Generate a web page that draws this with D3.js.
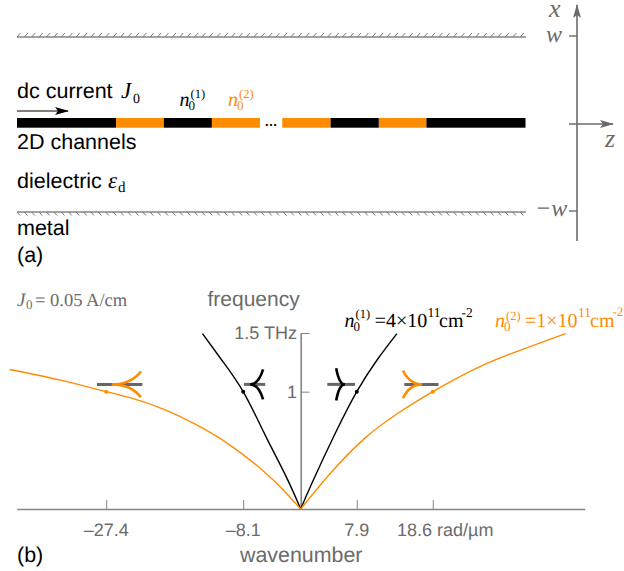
<!DOCTYPE html>
<html><head><meta charset="utf-8">
<style>html,body{margin:0;padding:0;background:#fff}svg{display:block}text{white-space:pre;text-rendering:geometricPrecision}</style>
<script src="https://cdn.jsdelivr.net/npm/d3@7/dist/d3.min.js"></script></head>
<body><svg id="c" width="624" height="571"></svg>
<script>
// ---------- panel (b) data ----------
const blackLeft  = [[-13.83,1.495],[-11.1,1.268],[-8.1,1.0],[-5,0.63],[-2,0.27],[0,0]];
const blackRight = [[0,0],[1.59,0.222],[4.87,0.645],[7.9,1.0],[10.75,1.27],[13.55,1.495]];
const orangeLeft = [[-41,1.189],[-34,1.10],[-27.4,1.0],[-24.04,0.949],[-19.35,0.852],[-14.65,0.716],[-9.96,0.545],[-5.27,0.324],[-2.45,0.162],[0,0]];
const orangeRight= [[0,0],[4.31,0.313],[9.01,0.602],[13.7,0.816],[18.6,1.0],[25.1,1.21],[32.1,1.38],[37.3,1.495]];
const xTicks = [-27.4,-8.1,7.9,18.6];
const xTickLabels = ["\u201327.4","\u20138.1","7.9","18.6 rad/\u00b5m"];
const yTicks = [1,1.5];
const yTickLabels = ["1","1.5 THz"];
const points = [[-27.4,1,"o"],[-8.1,1,"k"],[7.9,1,"k"],[18.6,1,"o"]];
const glyphs = [
 {k0:-28.7,k1:-22.3,kTip:-26.6,kEnd:-22.5,spread:0.11,c:"o"},
 {k0:-8,k1:-5,kTip:-7.1,kEnd:-5.3,spread:0.127,c:"k"},
 {k0:3.75,k1:7.65,kTip:6.2,kEnd:5,spread:0.138,c:"k"},
 {k0:14.6,k1:19.4,kTip:17.1,kEnd:14.4,spread:0.118,c:"o"}];
// ---------- panel (a) schematic ----------
const segLengths = [99,47.7,48,48,22.3,48.3,48.2,47.5,99];
const segKinds   = ["k","o","k","o","gap","o","k","o","k"];
const COLORS = {k:"#000000",o:"#ff8c00"};
const GREY="#858585", GTXT="#6b6b6b";
const SANS="'Liberation Sans',Arial,sans-serif", SERIF="'Liberation Serif','Times New Roman',serif";

const svg=d3.select("#c");
const defs=svg.append("defs");
function arrow(id,color,w,h){
  defs.append("marker").attr("id",id).attr("markerUnits","userSpaceOnUse").attr("viewBox","0 0 14 8").attr("refX",13).attr("refY",4)
   .attr("markerWidth",w).attr("markerHeight",h).attr("orient","auto")
   .append("path").attr("d","M0,0L14,4L0,8L3,4Z").attr("fill",color);
}
arrow("ag",GTXT,14,9); arrow("ak","#000",16,8);

function T(parent,x,y,str,o={}){
  const t=parent.append("text").attr("x",x).attr("y",y).text(str)
   .attr("font-family",o.serif?SERIF:SANS).attr("font-size",o.size||20).attr("fill",o.fill||"#000");
  if(o.italic)t.attr("font-style","italic");
  if(o.weight)t.attr("font-weight",o.weight);
  if(o.anchor)t.attr("text-anchor",o.anchor);
  return t;
}
function nLabel(x,y,sup,color,supDy){
  const t=svg.append("text").attr("font-family",SERIF).attr("fill",color).attr("x",x).attr("y",y);
  t.append("tspan").attr("x",x).attr("y",y).attr("font-size",20).attr("font-style","italic").text("n");
  t.append("tspan").attr("x",x+9).attr("y",y+4).attr("font-size",13).text("0");
  t.append("tspan").attr("x",x+11).attr("y",y-supDy).attr("font-size",12.5).text(sup);
}

// panel (a)
const xA=d3.scaleLinear().domain([0,d3.sum(segLengths)]).range([17,525.5]);
let acc=0;
segLengths.forEach((l,i)=>{
  if(segKinds[i]!=="gap")svg.append("rect").attr("x",xA(acc)).attr("y",118).attr("width",xA(acc+l)-xA(acc)).attr("height",9.7).attr("fill",COLORS[segKinds[i]]);
  acc+=l;
});
function wall(y,dirY,slant){
  svg.append("line").attr("x1",17).attr("x2",526).attr("y1",y).attr("y2",y).attr("stroke",GREY).attr("stroke-width",1.3);
  const n=d3.range(17,526,7.4);
  svg.selectAll(null).data(n).enter().append("line")
   .attr("x1",d=>d).attr("y1",y).attr("x2",d=>d+slant).attr("y2",y+dirY)
   .attr("stroke","#777").attr("stroke-width",1);
}
wall(37,-4,3.5); wall(212,3.5,3);

T(svg,17,98,"dc current",{size:21.5});
T(svg,121,98,"J",{serif:1,italic:1,size:23});
T(svg,133,103,"0",{serif:1,size:14});
svg.append("line").attr("x1",17).attr("x2",68).attr("y1",111).attr("y2",111).attr("stroke","#000").attr("stroke-width",1.2).attr("marker-end","url(#ak)");
T(svg,17,149,"2D channels",{size:21.5});
T(svg,17,188,"dielectric",{size:21.5});
T(svg,108,188,"\u03b5",{serif:1,italic:1,size:23});
T(svg,118,192,"d",{serif:1,size:15});
T(svg,17,235,"metal",{size:21.5});
T(svg,17,262,"(a)",{size:21.5});
nLabel(179.5,106,"(1)","#000",8);
nLabel(228,106,"(2)",COLORS.o,8);
T(svg,264.5,126,"\u2026",{size:13,weight:"bold",fill:"#000"});

// coordinate cross
svg.append("line").attr("x1",577).attr("x2",577).attr("y1",241).attr("y2",5).attr("stroke",GTXT).attr("stroke-width",1.6).attr("marker-end","url(#ag)");
svg.append("line").attr("x1",569).attr("x2",613).attr("y1",124).attr("y2",124).attr("stroke",GTXT).attr("stroke-width",1.6).attr("marker-end","url(#ag)");
[36,211].forEach(y=>svg.append("line").attr("x1",569).attr("x2",577).attr("y1",y).attr("y2",y).attr("stroke",GTXT).attr("stroke-width",1.4));
T(svg,549,17,"x",{serif:1,italic:1,size:26,fill:GTXT});
T(svg,546,42,"w",{serif:1,italic:1,size:24,fill:GTXT});
T(svg,605,147,"z",{serif:1,italic:1,size:26,fill:GTXT});
T(svg,535,216,"\u2212w",{serif:1,italic:1,size:24,fill:GTXT});

// panel (b)
const x=d3.scaleLinear().domain([-40,40]).range([16.7,584.7]);
const y=d3.scaleLinear().domain([0,1.5]).range([509,333]);
const gx=svg.append("g").attr("transform",`translate(0,${y(0)})`).call(d3.axisBottom(x).tickValues(xTicks).tickSize(-9).tickSizeOuter(0).tickFormat(""));
gx.selectAll(".domain").attr("stroke",GREY).attr("stroke-width",1.6);
gx.selectAll(".tick line").attr("stroke",GREY).attr("stroke-width",1);
const gy=svg.append("g").attr("transform",`translate(${x(0)},0)`).call(d3.axisRight(y).tickValues(yTicks).tickSize(9).tickSizeOuter(0).tickFormat(""));
gy.selectAll(".domain").attr("stroke",GREY).attr("stroke-width",1.6);
gy.selectAll(".tick line").attr("stroke",GREY).attr("stroke-width",1);

xTicks.forEach((t,i)=>T(svg,i==3?397:x(t),536,xTickLabels[i],{size:18,fill:GTXT,anchor:i==3?"start":"middle"}));
yTicks.forEach((t,i)=>T(svg,297,y(t)+6,yTickLabels[i],{size:18,fill:GTXT,anchor:"end"}));

T(svg,207.5,306,"frequency",{size:21,fill:GTXT});
T(svg,240,562,"wavenumber",{size:21.4,fill:GTXT});
T(svg,17,562,"(b)",{size:21.5});
T(svg,17,305.5,"J",{serif:1,italic:1,size:19,fill:GTXT});
T(svg,26,309,"0",{serif:1,size:13,fill:GTXT});
T(svg,35,305.5,"= 0.05 A/cm",{serif:1,size:18.5,fill:GTXT});

const line=d3.line().x(d=>x(d[0])).y(d=>y(d[1])).curve(d3.curveNatural);
[[blackLeft,"k"],[blackRight,"k"],[orangeLeft,"o"],[orangeRight,"o"]].forEach(([d,c])=>{
  svg.append("path").attr("d",line(d)).attr("fill","none").attr("stroke",COLORS[c]).attr("stroke-width",1.4);
});
svg.selectAll(null).data(points).enter().append("circle").attr("cx",d=>x(d[0])).attr("cy",d=>y(d[1])).attr("r",2).attr("fill",d=>COLORS[d[2]]);

const gf=1.062;
glyphs.forEach(g=>{
  svg.append("line").attr("x1",x(g.k0)).attr("x2",x(g.k1)).attr("y1",y(gf)).attr("y2",y(gf)).attr("stroke","#666").attr("stroke-width",3);
  [1,-1].forEach(s=>{
    const kMid=g.kTip+(g.kEnd-g.kTip)*0.65;
    svg.append("path").attr("d",`M${x(g.kTip)},${y(gf)}Q${x(kMid)},${y(gf)} ${x(g.kEnd)},${y(gf+s*g.spread)}`)
     .attr("fill","none").attr("stroke",COLORS[g.c]).attr("stroke-width",2.6);
  });
});

nLabel(344.5,327,"(1)","#000",9);
T(svg,374.7,327,"=4\u00d710",{serif:1,size:20});
T(svg,427.5,316.5,"11",{serif:1,size:13.5});
T(svg,439,327,"cm",{serif:1,size:20});
T(svg,461.5,316.5,"-2",{serif:1,size:13.5});
nLabel(495,327,"(2)",COLORS.o,7.5);
T(svg,525,327,"=1\u00d710",{serif:1,size:20,fill:COLORS.o});
T(svg,578,316.5,"11",{serif:1,size:13.5,fill:COLORS.o});
T(svg,590,327,"cm",{serif:1,size:20,fill:COLORS.o});
T(svg,612.5,316,"-2",{serif:1,size:13,fill:COLORS.o});
</script></body></html>
